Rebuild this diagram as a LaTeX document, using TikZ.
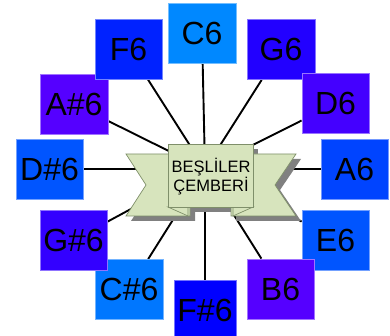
\documentclass[tikz,border=0pt]{standalone}
\usepackage{fontspec}
\setmainfont{Liberation Sans}
\usetikzlibrary{backgrounds}
\definecolor{kC}{HTML}{0088FF}
\definecolor{kG}{HTML}{2200FF}
\definecolor{kD}{HTML}{4400FF}
\definecolor{kA}{HTML}{0044FF}
\definecolor{kE}{HTML}{0055FF}
\definecolor{kB}{HTML}{5500FF}
\definecolor{kFs}{HTML}{0000FF}
\definecolor{kCs}{HTML}{0077FF}
\definecolor{kGs}{HTML}{3300FF}
\definecolor{kDs}{HTML}{0055FF}
\definecolor{kAs}{HTML}{5500FF}
\definecolor{kF}{HTML}{0022FF}
\definecolor{bandgreen}{HTML}{D7E4BD}
\definecolor{bandedge}{HTML}{7F8F6A}
\definecolor{bandshadow}{HTML}{808080}
\begin{document}
\begin{tikzpicture}[x=1pt,y=-1pt,
  note/.style={draw=#1!55!white, line width=0.8pt, fill=#1, inner sep=0pt,
    font=\fontsize{32}{32}\selectfont, text=black,
    minimum width=67pt, minimum height=60pt},
  spoke/.style={line width=1.9pt, black},
  band/.style={fill=bandgreen, draw=bandedge, line width=0.7pt, line join=miter},
  bandsh/.style={fill=bandshadow, draw=none}]
\useasboundingbox (0,0) rectangle (390,336);

% boxes
\node[note=kC, minimum width=68pt] (c6) at (202,33) {C6};
\node[note=kG, minimum width=68pt] (g6) at (281,49.5) {G6};
\node[note=kD] (d6) at (335.5,103.5) {D6};
\node[note=kA] (a6) at (354.5,169) {A6};
\node[note=kE] (e6) at (335.5,240) {E6};
\node[note=kB] (b6) at (280.5,289) {B6};
\node[note=kFs, minimum width=62pt] (fs6) at (205,310) {F\#6};
\node[note=kCs, minimum width=68pt] (cs6) at (129,289.5) {C\#6};
\node[note=kGs] (gs6) at (73.5,240) {G\#6};
\node[note=kDs] (ds6) at (49.5,169) {D\#6};
\node[note=kAs, minimum width=68pt] (as6) at (74,104) {A\#6};
\node[note=kF] (f6) at (128.5,49) {F6};

\coordinate (hub) at (205,169);

% spokes
\begin{scope}[on background layer]
  \foreach \n in {c6,g6,d6,a6,e6,b6,fs6,cs6,gs6,ds6,as6,f6}
    \draw[spoke] (hub) -- (\n);
\end{scope}

% banner shadow
\begin{scope}[shift={(5,5)}]
  \fill[bandsh] (126,154) -- (190,154) -- (190,216) -- (126,216) -- (146,185) -- cycle;
  \fill[bandsh] (296,154) -- (231,154) -- (231,216) -- (296,216) -- (275,185) -- cycle;
  \fill[bandsh] (168,144) rectangle (253,207);
\end{scope}

% banner tails
\draw[band] (126,154) -- (190,154) -- (190,216) -- (126,216) -- (146,185) -- cycle;
\draw[band] (296,154) -- (231,154) -- (231,216) -- (296,216) -- (275,185) -- cycle;
% folds
\draw[band] (168,207) -- (188,216) -- (188,207) -- cycle;
\draw[band] (253,207) -- (233,216) -- (233,207) -- cycle;
% panel
\node[band, minimum width=85pt, minimum height=63pt, inner sep=0pt] (panel) at (210.5,175.5) {};
\node[font=\fontsize{16.5}{19}\selectfont, align=center, inner sep=0pt] (title) at (211,177) {BEŞLİLER\\ÇEMBERİ};
\end{tikzpicture}
\end{document}
